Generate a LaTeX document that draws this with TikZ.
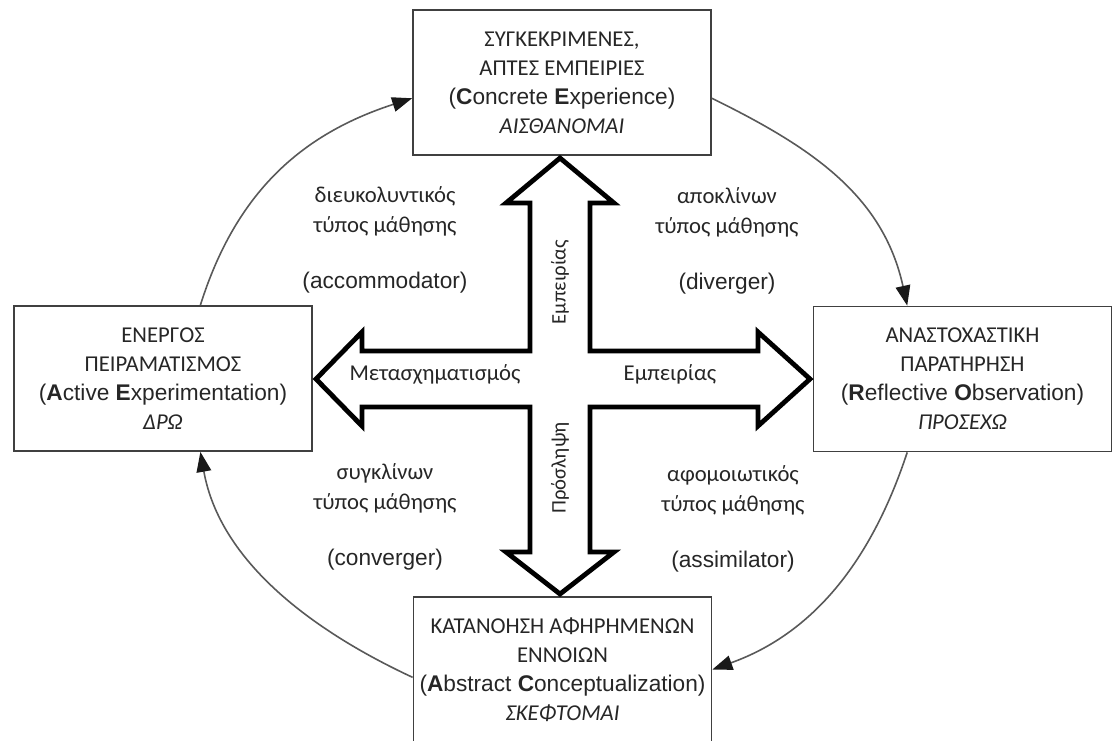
\documentclass[tikz,border=0pt]{standalone}
\usepackage{fontspec}
\setmainfont{Liberation Sans}
\newfontfamily\grfont{Carlito}
\usetikzlibrary{arrows.meta}

\begin{document}
\begin{tikzpicture}[x=0.75pt, y=-0.75pt,
		box/.style = {draw=black!75, line width=1.3pt, minimum width=223.5pt, minimum height=108.75pt, align=center, inner sep=2pt, text=black!85, font=\fontsize{17}{21.75}\selectfont},
		lbl/.style = {align=center, inner sep=0pt, text=black!85, font=\fontsize{17}{22.5}\selectfont\grfont},
		cyc/.style = {draw=black!65, line width=1.2pt, -{Triangle[length=15pt, width=11pt, color=black!90]}},
		cross/.style = {draw=black, line width=3.6pt, line join=miter}]
		\useasboundingbox (0,0) rectangle (1114,740);
		\node[box] (1) at (562,82.5) {\grfont ΣΥΓΚΕΚΡΙΜΕΝΕΣ,\\\grfont ΑΠΤΕΣ ΕΜΠΕΙΡΙΕΣ\\(\textbf{C}oncrete \textbf{E}xperience)\\\grfont\itshape ΑΙΣΘΑΝΟΜΑΙ};
		\node[box] (2) at (962.5,379) {\grfont ΑΝΑΣΤΟΧΑΣΤΙΚΗ\\\grfont ΠΑΡΑΤΗΡΗΣΗ\\(\textbf{R}eflective \textbf{O}bservation)\\\grfont\itshape ΠΡΟΣΕΧΩ};
		\node[box] (3) at (562.5,669.5) {\grfont ΚΑΤΑΝΟΗΣΗ ΑΦΗΡΗΜΕΝΩΝ\\\grfont ΕΝΝΟΙΩΝ\\(\textbf{A}bstract \textbf{C}onceptualization)\\\grfont\itshape ΣΚΕΦΤΟΜΑΙ};
		\node[box] (4) at (163,378.5) {\grfont ΕΝΕΡΓΟΣ\\\grfont ΠΕΙΡΑΜΑΤΙΣΜΟΣ\\(\textbf{A}ctive \textbf{E}xperimentation)\\\grfont\itshape ΔΡΩ};
		% learning styles
		\node[lbl] (5) at (385,240) {διευκολυντικός\\τύπος μάθησης\\[19pt]\rmfamily(accommodator)};
		\node[lbl] (6) at (727,241) {αποκλίνων\\τύπος μάθησης\\[19pt]\rmfamily(diverger)};
		\node[lbl] (7) at (385,517) {συγκλίνων\\τύπος μάθησης\\[19pt]\rmfamily(converger)};
		\node[lbl] (8) at (733,519) {αφομοιωτικός\\τύπος μάθησης\\[19pt]\rmfamily(assimilator)};
		% cross
		\draw[cross] (560,158) -- (614,203) -- (590,203) -- (590,351) -- (758,351) -- (758,332) -- (810,379) -- (758,426) -- (758,407) -- (590,407) -- (590,552) -- (614,552) -- (560,594) -- (506,552) -- (530,552) -- (530,407) -- (362,407) -- (362,426) -- (316,379) -- (362,332) -- (362,351) -- (530,351) -- (530,203) -- (506,203) -- cycle;
		\node[lbl] (9) at (435,374) {Μετασχηματισμός};
		\node[lbl] (10) at (670,374) {Εμπειρίας};
		\node[lbl, rotate=90, font=\fontsize{15.5}{18}\selectfont\grfont] (11) at (560,282) {Εμπειρίας};
		\node[lbl, rotate=90, font=\fontsize{15.5}{18}\selectfont\grfont] (12) at (560,468) {Πρόσληψη};
		% cycle
		\draw[cyc] (4.63) .. controls (236,192) and (302,134) .. (1.186);
		\draw[cyc] (1.-6) .. controls (811,147) and (883,195) .. (2.127);
		\draw[cyc] (2.233) .. controls (873,556) and (817,632) .. (3.east);
		\draw[cyc] (3.183) .. controls (313,631) and (220,562) .. (4.297);
	\end{tikzpicture}
\end{document}
